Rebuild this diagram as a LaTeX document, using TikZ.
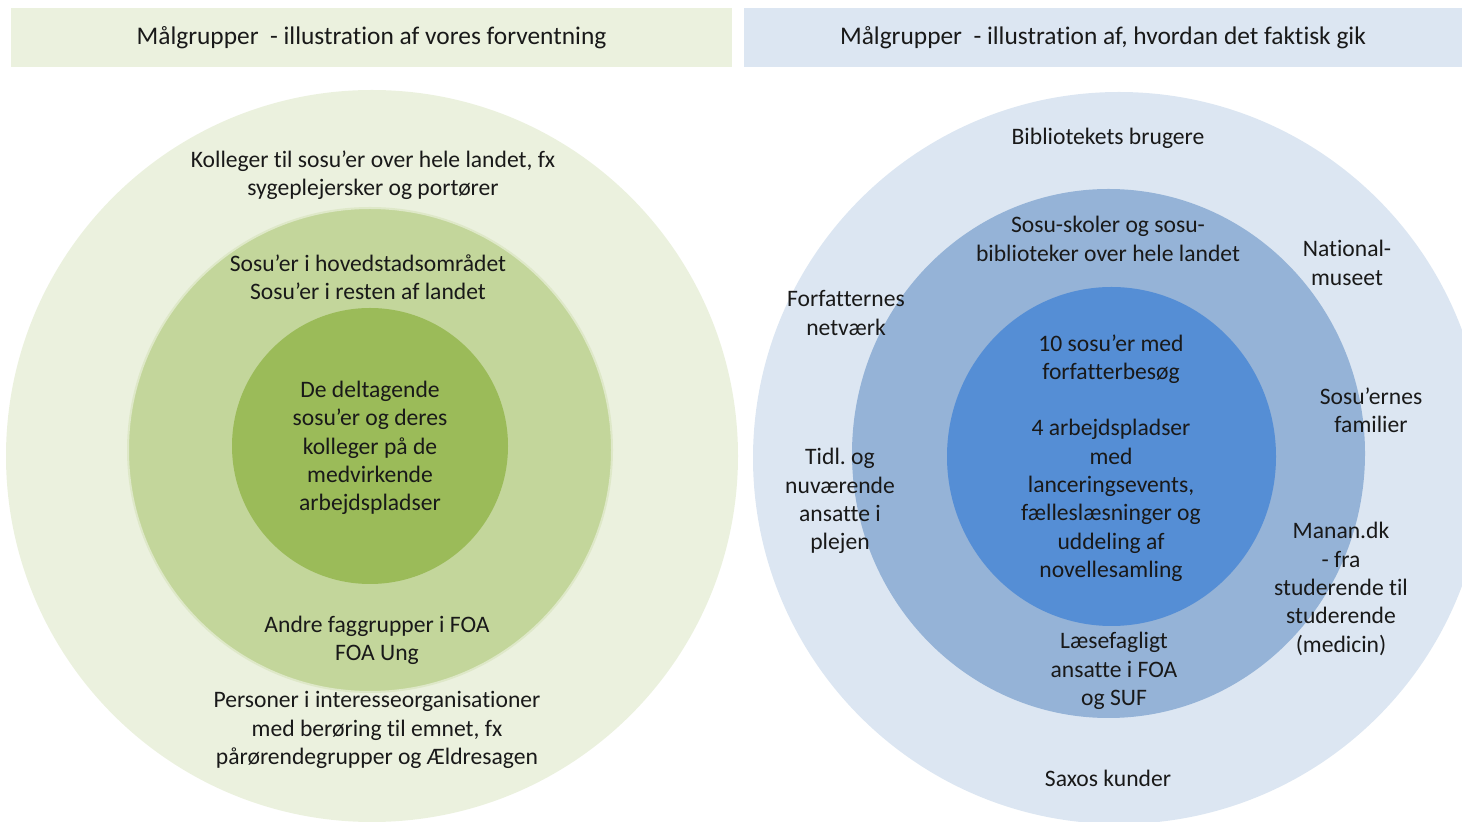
\documentclass[tikz,border=0pt]{standalone}
\usepackage{fontspec}
\setmainfont{Carlito}[Ligatures=NoCommon]
\usepackage{xcolor}
\usetikzlibrary{shapes.geometric}
\frenchspacing

\definecolor{grnLight}{HTML}{EBF1DE}
\definecolor{grnMid}{HTML}{C3D69B}
\definecolor{grnDark}{HTML}{9BBB59}
\definecolor{bluLight}{HTML}{DCE6F2}
\definecolor{bluMid}{HTML}{95B3D7}
\definecolor{bluDark}{HTML}{558ED5}

\begin{document}
\begin{tikzpicture}[
 x=0.5pt, y=-0.5pt,
 ring/.style={circle, inner sep=0pt, draw=none},
 oval/.style={ellipse, inner sep=0pt, draw=none},
 grp/.style={align=center, inner sep=1pt, text=black!90,
   font=\fontsize{11.8}{14.15}\selectfont},
 header/.style={grp, inner sep=0pt, minimum height=29.5pt,
   font=\fontsize{12.7}{15}\selectfont}
]
 \useasboundingbox (0,0) rectangle (1462,822);
 \clip (0,0) rectangle (1462,822);

 % Two title bars
 \node[header, fill=grnLight, minimum width=360.5pt] (hdrL) at (371.5,37.5)
   {Målgrupper~ - illustration af vores forventning};
 \node[header, fill=bluLight, minimum width=359pt] (hdrR) at (1103,37.5)
   {Målgrupper~ - illustration af, hvordan det faktisk gik};

 % Left: expected target groups, three nested circles
 \node[ring, fill=grnLight, minimum size=366pt] (outerL) at (372,456) {};
 \node[ring, fill=grnMid, draw=grnMid!55!white, line width=1pt, minimum size=242pt] (midL) at (370,450) {};
 \node[ring, fill=grnDark, minimum size=138pt] (innerL) at (370,446) {};

 % Right: what actually happened, three nested ovals
 \node[ring, fill=bluLight, minimum size=366pt] (outerR) at (1119,458) {};
 \node[oval, fill=bluMid, minimum width=256.5pt, minimum height=264.5pt] (midR) at (1108.5,453.5) {};
 \node[oval, fill=bluDark, minimum width=164.5pt, minimum height=169.5pt] (innerR) at (1111.5,456.5) {};

 % Labels, left
 \node[grp] (colleagues) at (373,175) {Kolleger til sosu’er over hele landet, fx\\sygeplejersker og portører};
 \node[grp] (sosuer) at (368,277) {Sosu’er i hovedstadsområdet\\Sosu’er i resten af landet};
 \node[grp] (participants) at (370,448) {De deltagende\\sosu’er og deres\\kolleger på de\\medvirkende\\arbejdspladser};
 \node[grp] (foa) at (377,640) {Andre faggrupper i FOA\\FOA Ung};
 \node[grp] (interest) at (377,730) {Personer i interesseorganisationer\\med berøring til emnet, fx\\pårørendegrupper og Ældresagen};

 % Labels, right
 \node[grp] (library) at (1108,138) {Bibliotekets brugere};
 \node[grp] (schools) at (1108,239) {Sosu-skoler og sosu-\\biblioteker over hele landet};
 \node[grp] (museum) at (1347,263) {National-\\museet};
 \node[grp] (authors) at (846,313) {Forfatternes\\netværk};
 \node[grp] (core) at (1111,458) {10 sosu’er med\\forfatterbesøg\\[14.15pt]4 arbejdspladser\\med\\lanceringsevents,\\fælleslæsninger og\\uddeling af\\novellesamling};
 \node[grp] (families) at (1371,410) {Sosu’ernes\\familier};
 \node[grp] (staff) at (840,501) {Tidl. og\\nuværende\\ansatte i\\plejen};
 \node[grp] (manan) at (1341,589) {Manan.dk\\- fra\\studerende til\\studerende\\(medicin)};
 \node[grp] (reading) at (1114,671) {Læsefagligt\\ansatte i FOA\\og SUF};
 \node[grp] (saxo) at (1108,778) {Saxos kunder};
\end{tikzpicture}
\end{document}
